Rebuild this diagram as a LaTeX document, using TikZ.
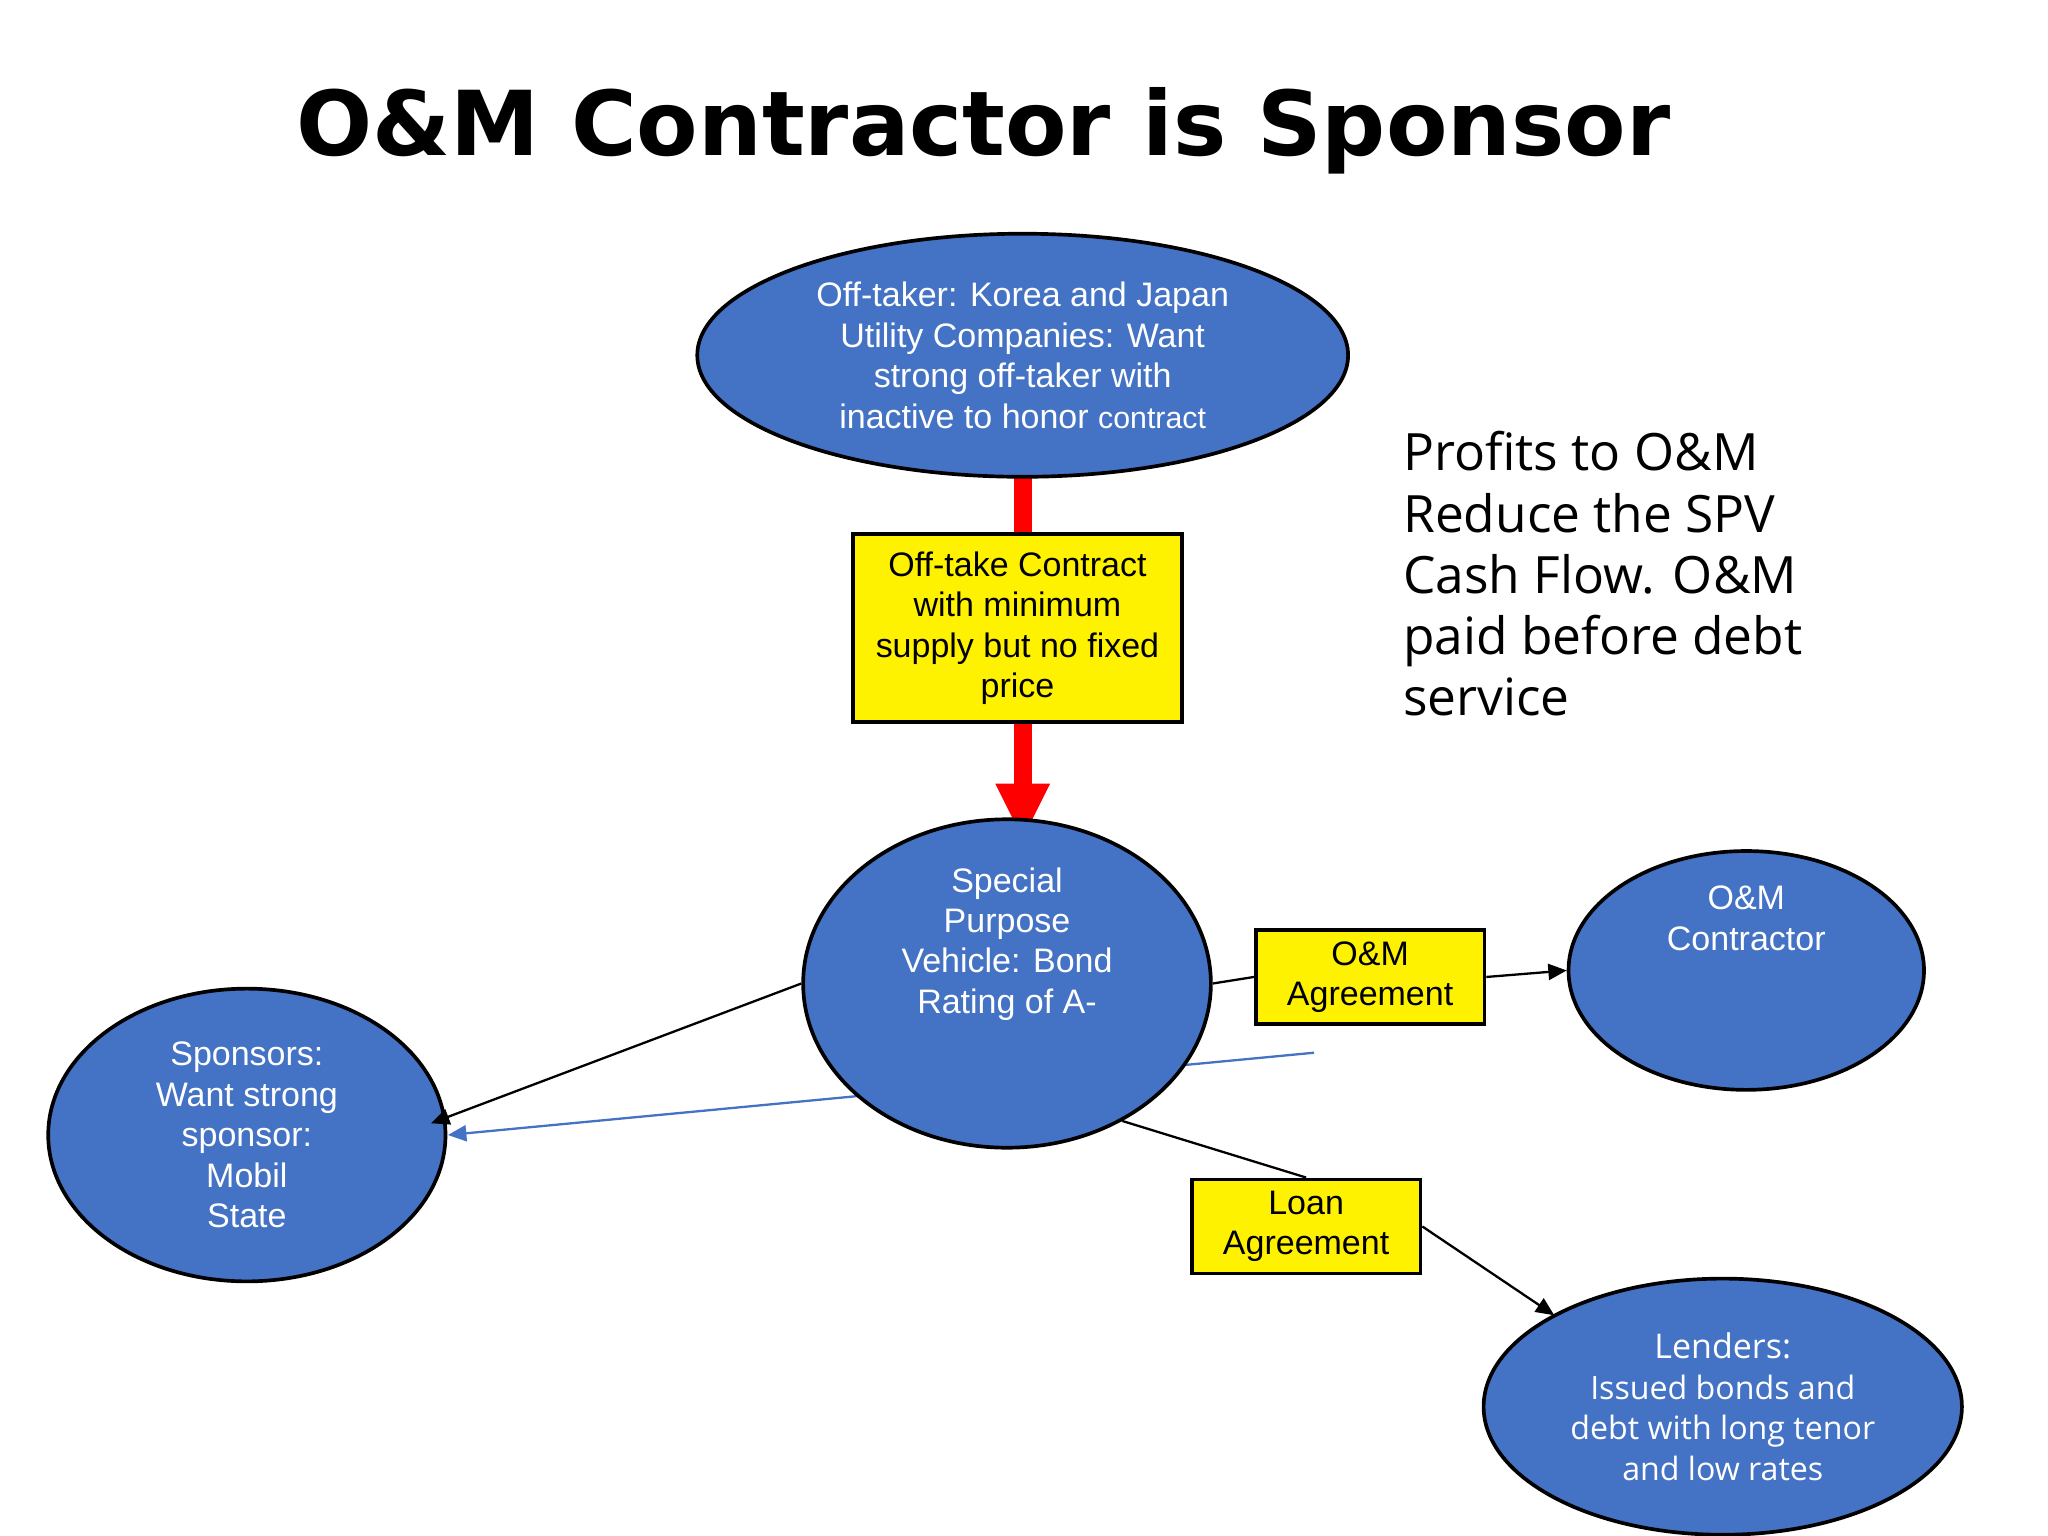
\documentclass[tikz,border=0pt]{standalone}
\usepackage{fontspec}
\setmainfont{Liberation Sans}
\newfontfamily\titlefont{DejaVu Sans}
\newfontfamily\opensans{Open Sans}
\usetikzlibrary{shapes.geometric,arrows.meta}
\begin{document}
\begin{tikzpicture}[x=0.01cm,y=-0.01cm,
  ell/.style={ellipse,draw=black,line width=0.8pt,fill=blueE,text=white,inner sep=0pt,align=center,font=\fontsize{7.4}{8.8}\selectfont},
  ybox/.style={draw=black,line width=0.8pt,fill=yellow,inner sep=0pt,align=center,font=\fontsize{7.4}{8.8}\selectfont},
  conn/.style={line width=0.5pt,-{Triangle[length=4pt,width=3.5pt]}}]
\definecolor{blueE}{HTML}{4472C4}
\useasboundingbox (0,0) rectangle (1568,1176);
\node[font=\titlefont\bfseries\fontsize{19.5}{22}\selectfont] (title) at (753,100) {O\&M Contractor is Sponsor};
% blue line behind
\coordinate (bstart) at (1006,806);
\node[ell,minimum width=3.04cm,minimum height=2.24cm] (spons) at (189,869) {Sponsors:\\Want strong\\sponsor:\\Mobil\\State};
\draw[blueE,line width=0.5pt,-{Triangle[length=4pt,width=3.5pt]}] (bstart) -- (343,869);
\coordinate (rtop) at (783,366);
\coordinate (rtip) at (783,642);
\draw[red,line width=4pt] (rtop) -- (783,600);
\fill[red] (762,600) -- (804,600) -- (rtip) -- cycle;
\node[ell,minimum width=4.98cm,minimum height=1.86cm] (off) at (783,272) {Off-taker: Korea and Japan\\Utility Companies: Want\\strong off-taker with\\inactive to honor {\fontsize{6.6}{8.8}\selectfont contract}};
\node[ybox,minimum width=2.52cm,minimum height=1.44cm,text=black] (otc) at (779,481) {Off-take Contract\\with minimum\\supply but no fixed\\price};
\node[ell,minimum width=3.12cm,minimum height=2.2cm] (spv) at (771,753) {Special\\Purpose\\Vehicle: Bond\\Rating of A-\\[10pt]};
\node[ybox,minimum width=1.75cm,minimum height=0.72cm] (om) at (1049,748) {O\&M\\Agreement};
\node[ell,minimum width=2.72cm,minimum height=1.62cm] (omc) at (1337,743) {O\&M\\Contractor\\[14pt]};
\node[ybox,minimum width=1.75cm,minimum height=0.72cm] (loan) at (1000,939) {Loan\\Agreement};
\node[ell,minimum width=3.66cm,minimum height=1.96cm,font=\opensans\fontsize{7}{8.8}\selectfont] (lend) at (1319,1077) {{\fontsize{7.4}{8.8}\selectfont Lenders:}\\Issued bonds and\\debt with long tenor\\and low rates};
\node[anchor=north west,align=left,font=\opensans\fontsize{11.2}{13.3}\selectfont] (profit) at (1062,318) {Profits to O\&M\\Reduce the SPV\\Cash Flow. O\&M\\paid before debt\\service};
\draw[conn] (spv.west) -- (330,860);
\draw[line width=0.5pt] (spv.east) -- (om.west);
\draw[conn] (om.east) -- (omc.west);
\draw[line width=0.5pt] (spv.-50) -- (loan.north);
\draw[conn] (loan.east) -- (1190,1007);
\end{tikzpicture}
\end{document}
